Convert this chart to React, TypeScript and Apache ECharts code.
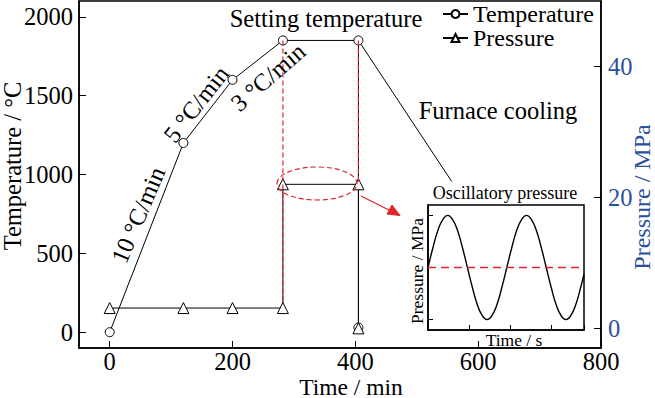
import React, { useEffect, useRef } from "react";
import * as echarts from "echarts";

// ---- data ----
const timeTemp = [0, 120, 200, 282, 405, 405];
const temperature = [0, 1200, 1600, 1850, 1850, 30];
const timePress = [0, 120, 200, 282, 282, 405, 405];
const pressure = [3.1, 3.1, 3.1, 3.1, 22, 22, 0];
const coolingTime = [405, 557];
const coolingTemp = [1850, 955];
const guideATime = [282, 282];
const guideATemp = [1850, 200];
const guideBTime = [405, 405];
const guideBTemp = [1850, 947];

const xTicks = [0, 200, 400, 600, 800];
const tempTicks = [0, 500, 1000, 1500, 2000];
const pressTicks = [0, 20, 40];

// inset oscillation (time in s, arbitrary pressure units)
const oscTime = [
  0, 0.24, 0.48, 0.72, 0.96, 1.2, 1.44, 1.68, 1.92, 2.16, 2.4, 2.64, 2.88, 3.12, 3.36, 3.6,
  3.84, 4.08, 4.32, 4.56, 4.8, 5.04, 5.28, 5.52, 5.76, 6.0, 6.24, 6.48, 6.72, 6.96, 7.2, 7.44, 7.6,
];
const oscPressure = [
  0, 0.38, 0.71, 0.92, 1, 0.92, 0.71, 0.38, 0, -0.38, -0.71, -0.92, -1, -0.92, -0.71, -0.38,
  0, 0.38, 0.71, 0.92, 1, 0.92, 0.71, 0.38, 0, -0.38, -0.71, -0.92, -1, -0.92, -0.71, -0.38, -0.13,
];
const oscMean = [0, 0];
const oscMeanTime = [0, 7.6];

const FONT = "'Liberation Serif', 'Times New Roman', serif";
const BLUE = "#2c4f9e";
const RED = "#e0262b";
const BIG = 24.5;

const zip = (a: number[], b: number[]) => a.map((v, i) => [v, b[i]]);
const plain = (v: number) => String(v);

export default function App() {
  const ref = useRef<HTMLDivElement>(null);
  useEffect(() => {
    document.body.style.margin = "0";
    const chart = echarts.init(ref.current!, null, { renderer: "svg" });
    const txt = (text: string, x: number, y: number, size: number, rot = 0, color = "#000") => ({
      type: "text",
      x,
      y,
      rotation: (rot * Math.PI) / 180,
      style: { text, fill: color, font: `${size}px ${FONT}`, align: "center", verticalAlign: "middle" },
      z: 100,
    });
    const line = { show: true, onZero: false, lineStyle: { color: "#000", width: 1.5 } };
    chart.setOption({
      animation: false,
      textStyle: { fontFamily: FONT },
      legend: {
        orient: "vertical",
        left: 442,
        top: 2,
        padding: 0,
        itemGap: 0,
        itemWidth: 25,
        itemHeight: 10,
        textStyle: { fontSize: 24, color: "#000", fontFamily: FONT },
        data: ["Temperature", "Pressure"],
      },
      grid: [
        { left: 79, right: 54, top: 1, bottom: 50, show: true, borderColor: "#000", borderWidth: 1.5 },
        { left: 428, top: 205, width: 156, height: 125, show: true, borderColor: "#000", borderWidth: 1.5, backgroundColor: "#fff", z: 5 },
      ],
      xAxis: [
        {
          type: "value",
          gridIndex: 0,
          min: -50,
          max: 800,
          axisLine: line,
          axisTick: { show: true, inside: true, length: 7, customValues: xTicks, lineStyle: { color: "#000" } },
          axisLabel: { customValues: xTicks, formatter: plain, fontSize: BIG, color: "#000", margin: 1, fontFamily: FONT },
          splitLine: { show: false },
        },
        {
          type: "value",
          gridIndex: 1,
          min: 0,
          max: 7.6,
          interval: 2,
          axisLine: line,
          axisTick: { show: true, inside: true, length: 5, lineStyle: { color: "#000" } },
          axisLabel: { show: false },
          splitLine: { show: false },
          z: 6,
        },
      ],
      yAxis: [
        {
          type: "value",
          gridIndex: 0,
          min: -100,
          max: 2100,
          axisLine: line,
          axisTick: { show: true, inside: true, length: 7, customValues: tempTicks, lineStyle: { color: "#000" } },
          axisLabel: { customValues: tempTicks, formatter: plain, fontSize: BIG, color: "#000", margin: 6, fontFamily: FONT },
          splitLine: { show: false },
        },
        {
          type: "value",
          gridIndex: 0,
          position: "right",
          min: -3,
          max: 50,
          axisLine: line,
          axisTick: { show: true, inside: true, length: 7, customValues: pressTicks, lineStyle: { color: "#000" } },
          axisLabel: { customValues: pressTicks, formatter: plain, fontSize: BIG, color: BLUE, margin: 7, fontFamily: FONT },
          splitLine: { show: false },
        },
        {
          type: "value",
          gridIndex: 1,
          min: -1.2,
          max: 1.2,
          axisLine: line,
          axisTick: { show: true, inside: true, length: 5, customValues: [-1, 1], lineStyle: { color: "#000" } },
          axisLabel: { show: false },
          splitLine: { show: false },
          z: 6,
        },
      ],
      series: [
        {
          name: "Temperature",
          type: "line",
          xAxisIndex: 0,
          yAxisIndex: 0,
          data: zip(timeTemp, temperature),
          symbol: "circle",
          symbolSize: 9,
          lineStyle: { color: "#000", width: 1 },
          itemStyle: { color: "#fff", borderColor: "#000", borderWidth: 1 },
          z: 3,
        },
        {
          name: "Pressure",
          type: "line",
          xAxisIndex: 0,
          yAxisIndex: 1,
          data: zip(timePress, pressure),
          symbol: "triangle",
          symbolSize: 11,
          lineStyle: { color: "#000", width: 1 },
          itemStyle: { color: "#fff", borderColor: "#000", borderWidth: 1 },
          z: 3,
        },
        {
          type: "line",
          xAxisIndex: 0,
          yAxisIndex: 0,
          data: zip(coolingTime, coolingTemp),
          symbol: "none",
          lineStyle: { color: "#000", width: 1 },
          z: 2,
        },
        {
          type: "line",
          xAxisIndex: 0,
          yAxisIndex: 0,
          data: zip(guideATime, guideATemp),
          symbol: "none",
          lineStyle: { color: RED, width: 1.2, type: [5, 3] },
          z: 4,
        },
        {
          type: "line",
          xAxisIndex: 0,
          yAxisIndex: 0,
          data: zip(guideBTime, guideBTemp),
          symbol: "none",
          lineStyle: { color: RED, width: 1.2, type: [5, 3] },
          z: 4,
        },
        {
          type: "line",
          xAxisIndex: 1,
          yAxisIndex: 2,
          data: zip(oscTime, oscPressure),
          symbol: "none",
          smooth: true,
          lineStyle: { color: "#000", width: 1.4 },
          z: 7,
        },
        {
          type: "line",
          xAxisIndex: 1,
          yAxisIndex: 2,
          data: zip(oscMeanTime, oscMean),
          symbol: "none",
          lineStyle: { color: RED, width: 1.6, type: [8, 5] },
          z: 8,
        },
      ],
      graphic: [
        txt("Time / min", 351, 386.5, 23.5),
        txt("Temperature / °C", 12.5, 166, BIG, 90),
        txt("Pressure / MPa", 642, 197, 24, 90, BLUE),
        txt("Setting temperature", 326, 18, BIG),
        txt("Furnace cooling", 498, 110, BIG),
        txt("Oscillatory pressure", 505, 193, 18),
        txt("Pressure / MPa", 417, 271, 17.5, 90),
        txt("Time / s", 514, 340, 17.5),
        txt("10 °C/min", 138, 215, BIG, 67),
        txt("5 °C/min", 196, 104, BIG, 52),
        txt("3 °C/min", 268, 77, BIG, 41),
        {
          type: "ellipse",
          shape: { cx: 317, cy: 183.5, rx: 40, ry: 16.5 },
          style: { fill: "none", stroke: RED, lineWidth: 1.2, lineDash: [5, 3] },
          z: 50,
        },
        {
          type: "line",
          shape: { x1: 361, y1: 196, x2: 392, y2: 211.5 },
          style: { stroke: RED, lineWidth: 1.3 },
          z: 50,
        },
        {
          type: "polygon",
          shape: { points: [[400, 215.5], [387, 214], [392, 205]] },
          style: { fill: RED, stroke: RED },
          z: 50,
        },
      ],
    });
    return () => chart.dispose();
  }, []);
  return <div ref={ref} style={{ width: 655, height: 398 }} />;
}
